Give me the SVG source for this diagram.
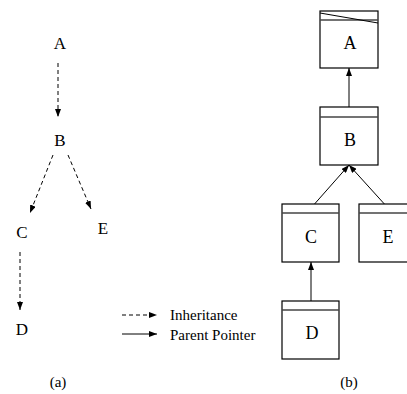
<svg xmlns="http://www.w3.org/2000/svg" width="407" height="394" viewBox="0 0 407 394">
<defs>
<marker id="ah" markerUnits="userSpaceOnUse" markerWidth="9" markerHeight="6" refX="8" refY="3" orient="auto">
<path d="M0,0 L8,3 L0,6 z" fill="#000"/>
</marker>
<style>
.t{font-family:"Liberation Serif","Times New Roman",serif;fill:#000;text-anchor:middle}
.sm{font-size:17px}
.bx{font-size:18px}
.lg{font-size:15px;text-anchor:start}
.box{fill:#fff;stroke:#000;stroke-width:1.2}
.hdr{stroke:#444;stroke-width:1.3}
.dash{stroke:#000;stroke-width:1;stroke-dasharray:4,3;fill:none}
.sol{stroke:#000;stroke-width:1;fill:none}
</style>
</defs>
<rect width="407" height="394" fill="#fff"/>
<g id="connectors">
<line class="dash" x1="58" y1="63" x2="58" y2="117" marker-end="url(#ah)"/>
<line class="dash" x1="53" y1="155" x2="30" y2="213" marker-end="url(#ah)"/>
<line class="dash" x1="68" y1="155" x2="91" y2="209" marker-end="url(#ah)"/>
<line class="dash" x1="20" y1="252" x2="20" y2="310" marker-end="url(#ah)"/>
<line class="sol" x1="349" y1="112" x2="349" y2="68" marker-end="url(#ah)"/>
<line class="sol" x1="311" y1="208" x2="349" y2="165" marker-end="url(#ah)"/>
<line class="sol" x1="388" y1="208" x2="349" y2="165" marker-end="url(#ah)"/>
<line class="sol" x1="311" y1="305" x2="311" y2="262" marker-end="url(#ah)"/>
</g>
<g id="a-A"><text class="t sm" x="60" y="49">A</text></g>
<g id="a-B"><text class="t sm" x="60" y="146">B</text></g>
<g id="a-C"><text class="t sm" x="22" y="238">C</text></g>
<g id="a-E"><text class="t sm" x="103" y="234">E</text></g>
<g id="a-D"><text class="t sm" x="22" y="335">D</text></g>
<g id="legend">
<line class="dash" x1="122" y1="315" x2="157" y2="315" marker-end="url(#ah)"/>
<line class="sol" x1="122" y1="334" x2="157" y2="334" marker-end="url(#ah)"/>
<text class="t lg" x="170" y="320">Inheritance</text>
<text class="t lg" x="170" y="340">Parent Pointer</text>
</g>
<g id="b-A">
<rect class="box" x="320" y="11" width="58" height="57"/>
<line class="hdr" x1="320" y1="20" x2="378" y2="20"/>
<line class="sol" x1="320" y1="13" x2="378" y2="23"/>
<text class="t bx" x="350" y="49">A</text>
</g>
<g id="b-B">
<rect class="box" x="320" y="107" width="58" height="58"/>
<line class="hdr" x1="320" y1="117" x2="378" y2="117"/>
<text class="t bx" x="350" y="146">B</text>
</g>
<g id="b-C">
<rect class="box" x="282" y="204" width="57" height="58"/>
<line class="hdr" x1="282" y1="213" x2="339" y2="213"/>
<text class="t bx" x="311" y="243">C</text>
</g>
<g id="b-E">
<rect class="box" x="359" y="204" width="58" height="58"/>
<line class="hdr" x1="359" y1="213" x2="417" y2="213"/>
<text class="t bx" x="388" y="243">E</text>
</g>
<g id="b-D">
<rect class="box" x="282" y="301" width="57" height="58"/>
<line class="hdr" x1="282" y1="310" x2="339" y2="310"/>
<text class="t bx" x="312" y="339">D</text>
</g>
<g id="captions">
<text class="t" style="font-size:15px" x="58" y="387">(a)</text>
<text class="t" style="font-size:15px" x="349" y="387">(b)</text>
</g>
</svg>
